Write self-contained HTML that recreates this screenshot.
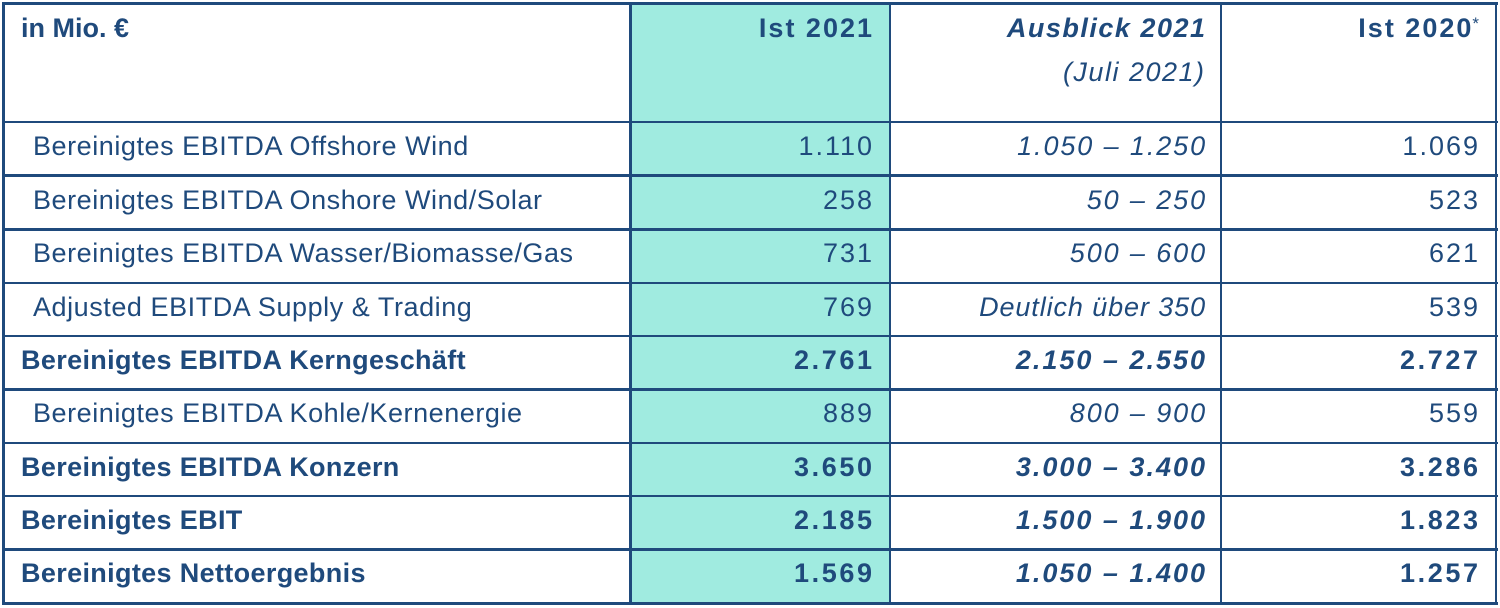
<!DOCTYPE html>
<html>
<head>
<meta charset="utf-8">
<style>
  html, body { margin:0; padding:0; }
  body { width:1500px; height:608px; position:relative; background:#ffffff; overflow:hidden;
         font-family:"Liberation Sans", Arial, sans-serif; color:#1f4a7c; }
  .h { position:absolute; left:2px; width:1496px; height:2.6px; background:#1f4a7c; }
  .v { position:absolute; top:2px; height:603px; width:2.6px; background:#1f4a7c; }
  .t { position:absolute; font-size:27px; line-height:30px; height:30px; white-space:nowrap; }
  .lab { left:33px; letter-spacing:0.55px; }
  .labb { left:21px; font-weight:bold; letter-spacing:0.35px; }
  .c2 { right:626px; text-align:right; letter-spacing:2px; }
  .c3 { right:293px; text-align:right; letter-spacing:1.9px; font-style:italic; }
  .c4 { right:20px; text-align:right; letter-spacing:2px; }
  .b { font-weight:bold; }
  .c2.b { letter-spacing:2.6px; right:625.4px; }
  .c4.b { letter-spacing:2.6px; right:19.4px; }
  .c3.b { letter-spacing:2px; right:293px; }
</style>
</head>
<body>
  <!-- teal column -->
  <div style="position:absolute; left:631px; top:3px; width:259px; height:600px; background:#a0ebe0;"></div>

  <!-- horizontal lines -->
  <div class="h" style="top:1.8px; height:2.8px;"></div>
  <div class="h" style="top:120.8px;"></div>
  <div class="h" style="top:174.2px;"></div>
  <div class="h" style="top:228.2px;"></div>
  <div class="h" style="top:281.7px;"></div>
  <div class="h" style="top:334.8px;"></div>
  <div class="h" style="top:388.2px;"></div>
  <div class="h" style="top:441.7px;"></div>
  <div class="h" style="top:494.8px;"></div>
  <div class="h" style="top:548.2px;"></div>
  <div class="h" style="top:601.5px; height:3px;"></div>

  <!-- vertical lines -->
  <div class="v" style="left:2px; width:2.8px;"></div>
  <div class="v" style="left:629.2px;"></div>
  <div class="v" style="left:888.8px;"></div>
  <div class="v" style="left:1219.8px;"></div>
  <div class="v" style="left:1494.6px; width:2.8px;"></div>

  <!-- header -->
  <div class="t labb" style="top:13.2px; letter-spacing:0;">in Mio. €</div>
  <div class="t c2 b" style="top:13.2px; letter-spacing:2px; right:626px;">Ist 2021</div>
  <div class="t c3 b" style="top:13.2px; letter-spacing:1.5px; right:293.5px;">Ausblick 2021</div>
  <div class="t c3" style="top:57.3px; letter-spacing:1.5px; right:294.5px;">(Juli 2021)</div>
  <div class="t b" style="top:13.2px; right:21px; text-align:right; letter-spacing:2px;">Ist 2020<span style="font-weight:normal; font-size:17px; position:relative; top:-8px; letter-spacing:0; margin-left:-1px;">*</span></div>

  <!-- row 1 -->
  <div class="t lab" style="top:130.9px;">Bereinigtes EBITDA Offshore Wind</div>
  <div class="t c2" style="top:130.9px;">1.110</div>
  <div class="t c3" style="top:130.9px;">1.050 – 1.250</div>
  <div class="t c4" style="top:130.9px;">1.069</div>

  <!-- row 2 -->
  <div class="t lab" style="top:184.65px;">Bereinigtes EBITDA Onshore Wind/Solar</div>
  <div class="t c2" style="top:184.65px;">258</div>
  <div class="t c3" style="top:184.65px;">50 – 250</div>
  <div class="t c4" style="top:184.65px;">523</div>

  <!-- row 3 -->
  <div class="t lab" style="top:238.4px;">Bereinigtes EBITDA Wasser/Biomasse/Gas</div>
  <div class="t c2" style="top:238.4px;">731</div>
  <div class="t c3" style="top:238.4px;">500 – 600</div>
  <div class="t c4" style="top:238.4px;">621</div>

  <!-- row 4 -->
  <div class="t lab" style="top:291.65px;">Adjusted EBITDA Supply &amp; Trading</div>
  <div class="t c2" style="top:291.65px;">769</div>
  <div class="t c3" style="top:291.65px; letter-spacing:0.9px; right:294px;">Deutlich über 350</div>
  <div class="t c4" style="top:291.65px;">539</div>

  <!-- row 5 -->
  <div class="t labb" style="top:344.9px;">Bereinigtes EBITDA Kerngeschäft</div>
  <div class="t c2 b" style="top:344.9px;">2.761</div>
  <div class="t c3 b" style="top:344.9px;">2.150 – 2.550</div>
  <div class="t c4 b" style="top:344.9px;">2.727</div>

  <!-- row 6 -->
  <div class="t lab" style="top:398.4px;">Bereinigtes EBITDA Kohle/Kernenergie</div>
  <div class="t c2" style="top:398.4px;">889</div>
  <div class="t c3" style="top:398.4px;">800 – 900</div>
  <div class="t c4" style="top:398.4px;">559</div>

  <!-- row 7 -->
  <div class="t labb" style="top:451.65px;">Bereinigtes EBITDA Konzern</div>
  <div class="t c2 b" style="top:451.65px;">3.650</div>
  <div class="t c3 b" style="top:451.65px;">3.000 – 3.400</div>
  <div class="t c4 b" style="top:451.65px;">3.286</div>

  <!-- row 8 -->
  <div class="t labb" style="top:504.9px;">Bereinigtes EBIT</div>
  <div class="t c2 b" style="top:504.9px;">2.185</div>
  <div class="t c3 b" style="top:504.9px;">1.500 – 1.900</div>
  <div class="t c4 b" style="top:504.9px;">1.823</div>

  <!-- row 9 -->
  <div class="t labb" style="top:558.4px;">Bereinigtes Nettoergebnis</div>
  <div class="t c2 b" style="top:558.4px;">1.569</div>
  <div class="t c3 b" style="top:558.4px;">1.050 – 1.400</div>
  <div class="t c4 b" style="top:558.4px;">1.257</div>
</body>
</html>
